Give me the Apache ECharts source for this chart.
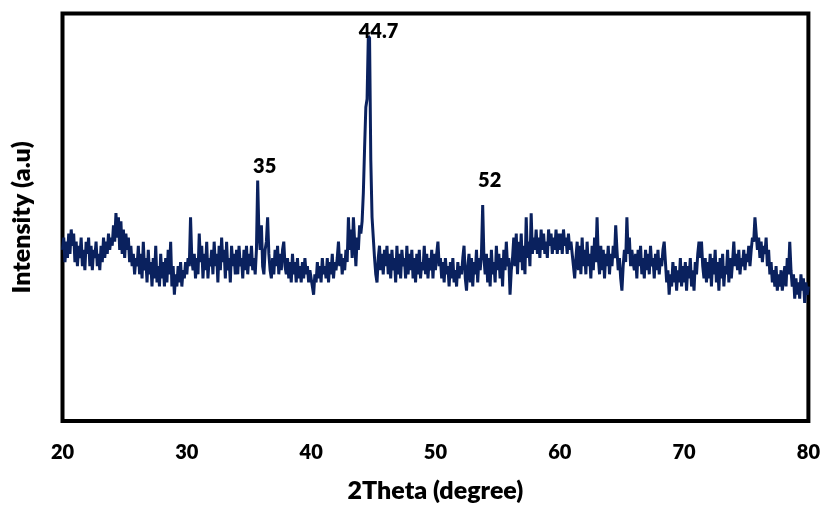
<!DOCTYPE html>
<html>
<head>
<meta charset="utf-8">
<script src="https://cdn.jsdelivr.net/npm/echarts@6/dist/echarts.min.js"></script>
<style>
  html, body { margin: 0; padding: 0; background: #fff; }
  #chart { width: 823px; height: 508px; }
</style>
</head>
<body>
<div id="chart"></div>
<script>
// XRD scan, 20-80 deg, step 0.1
var thetaStart = 20;
var thetaStep = 0.1;
var intensity = [
  42, 45, 39, 44, 40, 46, 41, 47, 43, 46, 39, 44, 38, 43, 40, 45, 38, 42, 37, 44,
  41, 45, 38, 43, 37, 42, 40, 44, 38, 41, 37, 43, 39, 45, 40, 44, 41, 46, 42, 45,
  43, 48, 44, 51, 45, 50, 42, 49, 41, 47, 40, 46, 42, 45, 39, 43, 38, 41, 36, 40,
  38, 43, 36, 41, 35, 44, 37, 40, 34, 42, 36, 39, 33, 40, 35, 43, 34, 38, 33, 41,
  35, 39, 33, 40, 34, 42, 36, 44, 33, 38, 31, 36, 33, 38, 34, 39, 33, 37, 35, 39,
  36, 40, 38, 50, 40, 37, 41, 35, 40, 36, 46, 39, 43, 35, 41, 37, 44, 35, 40, 38,
  42, 36, 44, 38, 41, 34, 43, 37, 45, 39, 42, 35, 44, 37, 40, 34, 43, 38, 41, 36,
  42, 36, 43, 38, 40, 35, 42, 37, 43, 36, 41, 38, 43, 37, 40, 36, 42, 59, 46, 42,
  48, 38, 36, 42, 44, 50, 41, 37, 35, 40, 36, 42, 38, 43, 36, 41, 37, 42, 44, 38,
  36, 40, 35, 39, 34, 41, 36, 39, 34, 40, 35, 38, 34, 39, 35, 40, 36, 38, 34, 37,
  35, 33, 31, 36, 34, 39, 35, 38, 34, 40, 36, 38, 35, 40, 34, 39, 36, 41, 35, 39,
  37, 40, 44, 38, 41, 36, 40, 37, 42, 39, 50, 42, 47, 40, 50, 44, 38, 45, 42, 48,
  46, 49, 56, 67, 77, 79, 94.5, 94, 64, 50, 45, 40, 36, 34, 40, 43, 37, 41, 36, 42,
  38, 43, 36, 41, 35, 42, 37, 40, 34, 43, 36, 41, 35, 42, 38, 40, 35, 43, 36, 41,
  37, 42, 35, 40, 34, 41, 36, 42, 35, 39, 37, 43, 36, 41, 35, 40, 37, 42, 35, 41,
  37, 41, 44, 38, 40, 35, 39, 34, 40, 36, 38, 33, 39, 35, 40, 34, 37, 33, 39, 35,
  38, 36, 40, 43, 35, 32, 38, 41, 34, 40, 33, 39, 36, 42, 34, 40, 37, 41, 53, 40,
  36, 41, 34, 40, 33, 42, 36, 39, 34, 43, 37, 41, 35, 40, 33, 42, 37, 44, 38, 40,
  31, 37, 40, 45, 38, 46, 36, 44, 39, 46, 37, 43, 36, 50, 40, 44, 38, 51, 41, 45,
  42, 47, 41, 45, 40, 47, 42, 46, 41, 44, 40, 47, 43, 46, 41, 45, 42, 47, 41, 46,
  42, 46, 41, 47, 43, 45, 41, 46, 42, 44, 41, 38, 35, 40, 44, 37, 43, 36, 45, 38,
  42, 36, 44, 38, 41, 35, 43, 37, 45, 39, 50, 40, 36, 43, 37, 42, 35, 41, 38, 43,
  36, 41, 38, 43, 40, 48, 42, 37, 40, 35, 32, 38, 42, 39, 50, 41, 45, 38, 42, 39,
  37, 41, 35, 42, 38, 43, 36, 40, 35, 42, 37, 41, 36, 43, 38, 40, 35, 41, 37, 42,
  36, 40, 38, 42, 44, 39, 34, 37, 31, 36, 33, 39, 34, 38, 32, 37, 34, 40, 33, 38,
  34, 39, 32, 38, 35, 40, 33, 37, 32, 39, 36, 41, 44, 40, 44, 38, 35, 40, 34, 39,
  35, 41, 33, 40, 36, 42, 34, 39, 32, 40, 35, 41, 33, 38, 36, 42, 34, 40, 35, 39,
  44, 38, 41, 37, 42, 36, 40, 38, 42, 37, 41, 39, 43, 38, 42, 45, 44, 50, 46, 42,
  45, 40, 44, 39, 43, 41, 45, 38, 42, 36, 39, 34, 37, 33, 38, 32, 36, 33, 37, 32,
  35, 38, 33, 40, 36, 44, 37, 33, 36, 30, 35, 31, 34, 30, 36, 32, 35, 29, 34, 31,
  33
];
var peakTheta = [35.7, 44.7, 53.8];
var peakText = ['35', '44.7', '52'];
var labelOffsets = [[7, -14], [9, -6], [7, -24]];

var points = intensity.map(function (v, i) {
  return [(thetaStart * 10 + i) / 10, v];
});

var peakMarks = peakTheta.map(function (t, k) {
  var idx = Math.round((t - thetaStart) / thetaStep);
  return {
    coord: [t, intensity[idx]],
    label: { formatter: peakText[k], offset: labelOffsets[k] }
  };
});

var font = 'Lato, "Open Sans", sans-serif';
var chart = echarts.init(document.getElementById('chart'));
chart.setOption({
  animation: false,
  backgroundColor: '#fff',
  grid: {
    left: 62.5, right: 11.5, top: 13.5, bottom: 84,
    show: true, borderColor: '#000', borderWidth: 4, backgroundColor: 'transparent'
  },
  xAxis: {
    type: 'value', min: 20, max: 80, interval: 10,
    name: '2Theta (degree)', nameLocation: 'middle', nameGap: 57,
    nameTextStyle: { fontFamily: font, fontWeight: 800, fontSize: 25, color: '#000' },
    axisLine: { show: false }, axisTick: { show: false }, splitLine: { show: false },
    axisLabel: { margin: 22, fontFamily: font, fontWeight: 800, fontSize: 20, color: '#000' }
  },
  yAxis: {
    type: 'value', min: 0, max: 100,
    name: 'Intensity (a.u)', nameLocation: 'middle', nameGap: 28, nameRotate: 90,
    nameTextStyle: { fontFamily: font, fontWeight: 800, fontSize: 25, color: '#000' },
    axisLine: { show: false }, axisTick: { show: false }, splitLine: { show: false },
    axisLabel: { show: false }
  },
  series: [{
    type: 'line',
    data: points,
    showSymbol: false,
    lineStyle: { color: '#0a215e', width: 3 },
    markPoint: {
      symbol: 'circle', symbolSize: 0, silent: true,
      label: { show: true, position: 'inside', fontFamily: font, fontWeight: 800, fontSize: 20, color: '#000' },
      data: peakMarks
    }
  }]
});
</script>
</body>
</html>
